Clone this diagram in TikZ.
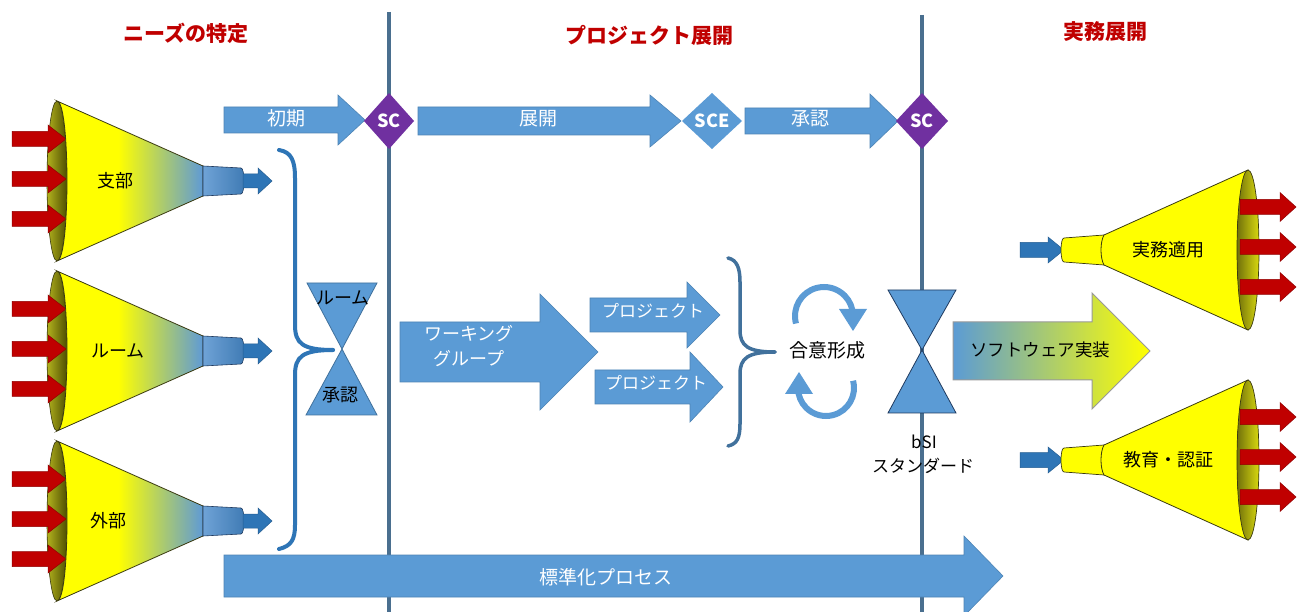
\documentclass[tikz,border=0pt]{standalone}
\usepackage{fontspec}
\setmainfont{Noto Sans CJK JP}
\definecolor{ablue}{HTML}{5B9BD5}
\definecolor{dblue}{HTML}{2E75B6}
\definecolor{lineblue}{HTML}{4A6F8F}
\definecolor{bracec}{HTML}{41719C}
\definecolor{purp}{HTML}{7030A0}
\definecolor{hred}{HTML}{C00000}
\definecolor{ared}{HTML}{C00000}
\definecolor{fyel}{HTML}{FFFF00}
\definecolor{fblue}{HTML}{5E9AD6}
\definecolor{olD}{HTML}{4E4E00}
\definecolor{olL}{HTML}{B2B21E}
\definecolor{fedge}{HTML}{3A3A10}
\definecolor{tubeL}{HTML}{6FA3D6}
\definecolor{tubeR}{HTML}{3F7AB4}
\definecolor{hgdark}{HTML}{1F3A5F}
\pgfdeclarehorizontalshading{lfun}{100bp}{color(0bp)=(fyel); color(25bp)=(fyel); color(46bp)=(fyel); color(75bp)=(fblue); color(100bp)=(fblue)}
\tikzset{
  blk/.style={fill=ablue, draw=ablue!85!black, line width=0.6},
  redarr/.style={fill=ared, draw=ared!75!black, line width=0.5},
  darr/.style={fill=dblue, draw=dblue!80!black, line width=0.5},
  wtxt/.style={text=white, font=\fontsize{19}{21}\selectfont},
  btxt/.style={text=black, font=\fontsize{18}{25}\selectfont},
  headtxt/.style={text=hred, font=\bfseries\fontsize{21}{23}\selectfont},
  sctxt/.style={text=white, font=\bfseries\fontsize{18}{20}\selectfont},
  vline/.style={draw=lineblue, line width=3.5},
  bracestyle/.style={draw=#1, line width=4, line cap=round},
  hglass/.style={fill=ablue, draw=#1, line width=0.8},
}
\newcommand{\barrow}[7][]{%
  \path[#1] ({#2},{#5-#6}) -- ({#3},{#5-#6}) -- ({#3},{#5-#7}) -- ({#4},{#5}) -- ({#3},{#5+#7}) -- ({#3},{#5+#6}) -- ({#2},{#5+#6}) -- cycle;}
% left funnel: #1 centre y, #2 node name, #3 label x, #4 label
\newcommand{\lfun}[4]{%
  \path[shade, left color=olL, right color=olD, draw=fedge, line width=0.6] (57,{#1}) ellipse [x radius=10, y radius=80];
  \foreach \d in {-42,-2,38}{\barrow[redarr]{12}{48}{66}{#1+\d}{7.5}{14}}
  \path[shade, shading=lfun, draw=fedge, line width=0.8] (57,{#1-80}) -- (203,{#1-15}) -- (203,{#1+15}) -- (57,{#1+80}) .. controls (70.3,{#1+80}) and (70.3,{#1-80}) .. (57,{#1-80}) -- cycle;
  \path[shade, left color=tubeL, right color=tubeR, draw=hgdark, line width=0.6] (203,{#1-15}) -- (241,{#1-13}) .. controls (245,{#1-13}) and (245,{#1+13}) .. (241,{#1+13}) -- (203,{#1+15}) -- cycle;
  \barrow[darr]{243}{258}{272}{#1}{7}{13}
  \node[btxt] (#2) at (#3,{#1}) {#4};
}
% right funnel
\newcommand{\rfun}[3]{%
  \barrow[darr]{1020}{1048}{1064}{#1}{7.5}{13}
  \path[fill=fyel, draw=fedge, line width=0.7] (1064,{#1-12}) .. controls (1060,{#1-12}) and (1060,{#1+12}) .. (1064,{#1+12}) -- (1104,{#1+15}) -- (1104,{#1-15}) -- cycle;
  \path[fill=fyel, draw=fedge, line width=0.8] (1104,{#1-15}) -- (1248,{#1-80}) -- (1248,{#1+80}) -- (1104,{#1+15}) .. controls (1100,{#1+8}) and (1100,{#1-8}) .. (1104,{#1-15}) -- cycle;
  \path[shade, left color=olD!65!olL, right color=olL!50!fyel, draw=fedge, line width=0.7] (1248,{#1}) ellipse [x radius=11, y radius=80];
  \foreach \d in {-43,-3,37}{\barrow[redarr]{1240}{1280}{1296}{#1+\d}{7.5}{14.5}}
  \node[btxt] (#2) at (1168,{#1}) {#3};
}
\begin{document}
\begin{tikzpicture}[x=1pt, y=-1pt]
\useasboundingbox (0,0) rectangle (1302,612);
\fill[white] (0,0) rectangle (1302,612);

% headers
\node[headtxt] (h1) at (186,33) {ニーズの特定};
\node[headtxt] (h2) at (649,35) {プロジェクト展開};
\node[headtxt] (h3) at (1105,32) {実務展開};

% vertical lines
\draw[vline] (389,12) -- (389,612);
\draw[vline] (922,15) -- (922,612);

% top flow
\barrow[blk]{224}{338}{365}{120}{13}{25}
\node[wtxt] (a1) at (286,118) {初期};
\fill[purp] (364,121) -- (389,93) -- (414,121) -- (389,149) -- cycle;
\node[sctxt] (sc1) at (389,121) {SC};
\barrow[blk]{418}{650}{681}{121}{14}{26}
\node[wtxt] (a2) at (538,119) {展開};
\fill[ablue] (682,121) -- (712,93) -- (742,121) -- (712,149) -- cycle;
\node[sctxt] (sce) at (712,121) {SCE};
\barrow[blk]{745}{870}{898}{121}{13}{27}
\node[wtxt] (a3) at (810,119) {承認};
\fill[purp] (896,121) -- (922,93) -- (948,121) -- (922,149) -- cycle;
\node[sctxt] (sc2) at (922,121) {SC};

% left funnels
\lfun{181}{f1}{115}{支部}
\lfun{351}{f2}{118}{ルーム}
\lfun{521}{f3}{108}{外部}

% left brace
\draw[bracestyle=dblue] (279,150) .. controls (291,152) and (295,160) .. (295,178) -- (295,325) .. controls (295,343) and (302,350) .. (333,350);
\draw[bracestyle=dblue] (333,350) .. controls (302,350) and (295,357) .. (295,375) -- (295,525) .. controls (295,540) and (291,546) .. (279,549);

% left hourglass
\path[hglass=bracec] (307,283) -- (377,283) -- (342,349) -- cycle;
\path[hglass=bracec] (342,349) -- (377,415) -- (306,415) -- cycle;
\node[btxt] (hg1) at (343,298) {ルーム};
\node[btxt] (hg2) at (340,395) {承認};

% working group
\barrow[blk]{400}{540}{598}{352}{30}{58}
\node[wtxt, align=center, font=\fontsize{18}{25}\selectfont] (wg) at (469,346) {ワーキング\\グループ};
\barrow[blk]{590}{687}{720}{315}{17}{33}
\node[wtxt, font=\fontsize{17}{19}\selectfont] (p1) at (653,311) {プロジェクト};
\barrow[blk]{595}{690}{723}{387}{17}{35}
\node[wtxt, font=\fontsize{17}{19}\selectfont] (p2) at (656,383) {プロジェクト};

% middle brace
\draw[bracestyle=bracec, line width=3.5] (728,258) .. controls (737,260) and (740,268) .. (740,282) -- (740,330) .. controls (740,346) and (748,352) .. (775,352);
\draw[bracestyle=bracec, line width=3.5] (775,352) .. controls (748,352) and (740,358) .. (740,374) -- (740,424) .. controls (740,438) and (737,444) .. (728,446);

% consensus cycle
\draw[ablue, line width=6] (824,316) ++(165:29) arc[start angle=165, end angle=360, radius=29];
\fill[ablue] (839,309) -- (867,309) -- (853,331) -- cycle;
\draw[ablue, line width=6] (826,388) ++(-15:28) arc[start angle=-15, end angle=180, radius=28];
\fill[ablue] (785,394) -- (813,394) -- (799,372) -- cycle;
\node[btxt, fill=white, inner sep=2, font=\fontsize{19}{21}\selectfont] (cons) at (827,350) {合意形成};

% right hourglass
\path[hglass=hgdark] (888,290) -- (956,290) -- (922,350) -- cycle;
\path[hglass=hgdark] (922,350) -- (956,413) -- (888,413) -- cycle;
\node[btxt, font=\fontsize{17}{19}\selectfont] (bsi) at (924,442) {bSI};
\node[btxt, font=\fontsize{17}{19}\selectfont] (std) at (923,466) {スタンダード};

% software arrow
\barrow[draw=gray!80, line width=1, left color=ablue, middle color={rgb,255:red,200;green,220;blue,60}, right color=fyel]{953}{1092}{1150}{351}{29}{58}
\node[btxt, font=\fontsize{17.5}{20}\selectfont] (sw) at (1040,350) {ソフトウェア実装};

% right funnels
\rfun{250}{g1}{実務適用}
\rfun{460}{g2}{教育・認証}

% bottom arrow
\barrow[blk]{224}{964}{1003}{576}{21}{40}
\node[wtxt] (std2) at (606,577) {標準化プロセス};
\end{tikzpicture}
\end{document}
